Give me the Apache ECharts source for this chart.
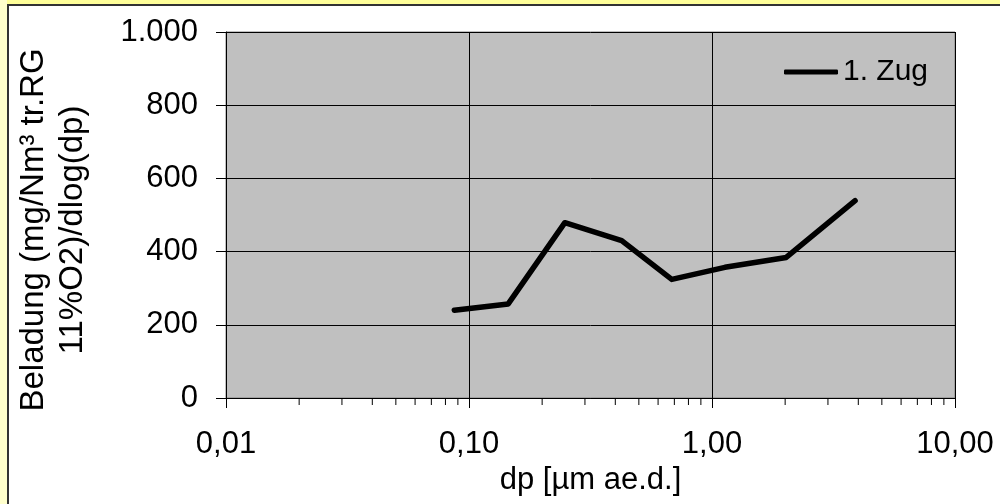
<!DOCTYPE html>
<html>
<head>
<meta charset="utf-8">
<script src="https://cdn.jsdelivr.net/npm/echarts@6/dist/echarts.min.js"></script>
<style>
  html, body { margin: 0; padding: 0; background: #ffffff; }
  #chart { width: 1000px; height: 504px; }
</style>
</head>
<body>
<div id="chart"></div>
<script>
// ---- Data ----
const seriesName = '1. Zug';
const dpValues = [0.087, 0.145, 0.248, 0.425, 0.683, 1.13, 2.02, 3.88];
const loadValues = [240, 257, 479, 430, 324, 357, 384, 539];
const minorTickValues = [0.02, 0.03, 0.04, 0.05, 0.06, 0.07, 0.08, 0.09,
                         0.2, 0.3, 0.4, 0.5, 0.6, 0.7, 0.8, 0.9,
                         2, 3, 4, 5, 6, 7, 8, 9];
const xAxisTitle = 'dp [µm ae.d.]';
const yAxisTitleLines = ['Beladung (mg/Nm³ tr.RG', '11%O2)/dlog(dp)'];

const FONT = '"Liberation Sans", Arial, sans-serif';

function fmtX(v) { return Number(v).toFixed(2).replace('.', ','); }
function fmtY(v) { return String(Math.round(v)).replace(/\B(?=(\d{3})+(?!\d))/g, '.'); }

const chart = echarts.init(document.getElementById('chart'), null, { renderer: 'canvas' });

const option = {
  animation: false,
  backgroundColor: '#ffffff',
  textStyle: { fontFamily: FONT, color: '#000' },
  grid: {
    left: 226, right: 45, top: 32, bottom: 106,
    show: true,
    backgroundColor: '#C0C0C0',
    borderColor: '#808080',
    borderWidth: 1
  },
  legend: {
    data: [seriesName],
    left: 779, top: 52,
    itemWidth: 54, itemHeight: 5,
    itemGap: 10,
    icon: 'roundRect',
    textStyle: { fontFamily: FONT, fontSize: 30, color: '#000', padding: [0, 0, 0, 0] },
    selectedMode: false
  },
  xAxis: {
    type: 'log',
    logBase: 10,
    min: 0.01,
    max: 10,
    name: xAxisTitle,
    nameLocation: 'middle',
    nameGap: 64,
    nameTextStyle: { fontFamily: FONT, fontSize: 31, color: '#000' },
    axisLine: { show: true, lineStyle: { color: '#000', width: 1 } },
    axisTick: { show: true, length: 10, inside: false, lineStyle: { color: '#000' } },
    axisLabel: { formatter: fmtX, fontFamily: FONT, fontSize: 31, color: '#000', margin: 31 },
    splitLine: { show: true, lineStyle: { color: '#000', width: 1 } },
    minorTick: { show: false },
    minorSplitLine: { show: false }
  },
  yAxis: {
    type: 'value',
    min: 0,
    max: 1000,
    interval: 200,
    axisLine: { show: true, lineStyle: { color: '#000', width: 1 } },
    axisTick: { show: true, length: 10, inside: false, lineStyle: { color: '#000' } },
    axisLabel: { formatter: fmtY, fontFamily: FONT, fontSize: 31, color: '#000', margin: 28 },
    splitLine: { show: true, lineStyle: { color: '#000', width: 1 } }
  },
  series: [
    {
      name: seriesName,
      type: 'line',
      data: dpValues.map((x, i) => [x, loadValues[i]]),
      symbol: 'none',
      showSymbol: false,
      smooth: false,
      itemStyle: { color: '#000' },
      lineStyle: { color: '#000', width: 5.5, cap: 'round', join: 'round' },
      z: 5
    },
    {
      name: 'minorTicks',
      type: 'custom',
      silent: true,
      clip: false,
      data: minorTickValues.map(v => [v, 0]),
      encode: { x: 0, y: 1 },
      renderItem: function (params, api) {
        const p = api.coord([api.value(0), 0]);
        return {
          type: 'line',
          shape: { x1: p[0], y1: p[1], x2: p[0], y2: p[1] + 7 },
          style: { stroke: '#000', lineWidth: 1 }
        };
      },
      z: 3
    }
  ],
  graphic: [
    { type: 'rect', silent: true, shape: { x: 0, y: 0, width: 1000, height: 4 }, style: { fill: '#FFFF99' }, z: 100 },
    { type: 'rect', silent: true, shape: { x: 0, y: 0, width: 7, height: 504 }, style: { fill: '#FFFFCC' }, z: 100 },
    { type: 'rect', silent: true, shape: { x: 7, y: 4, width: 993, height: 2 }, style: { fill: '#333333' }, z: 101 },
    { type: 'rect', silent: true, shape: { x: 7, y: 4, width: 2, height: 500 }, style: { fill: '#333333' }, z: 101 },
    {
      type: 'text',
      silent: true,
      x: 53, y: 230,
      rotation: Math.PI / 2,
      style: {
        text: yAxisTitleLines.join('\n'),
        font: '33px ' + FONT,
        fill: '#000',
        align: 'center',
        verticalAlign: 'middle',
        lineHeight: 39
      },
      z: 50
    }
  ]
};

chart.setOption(option);
</script>
</body>
</html>
